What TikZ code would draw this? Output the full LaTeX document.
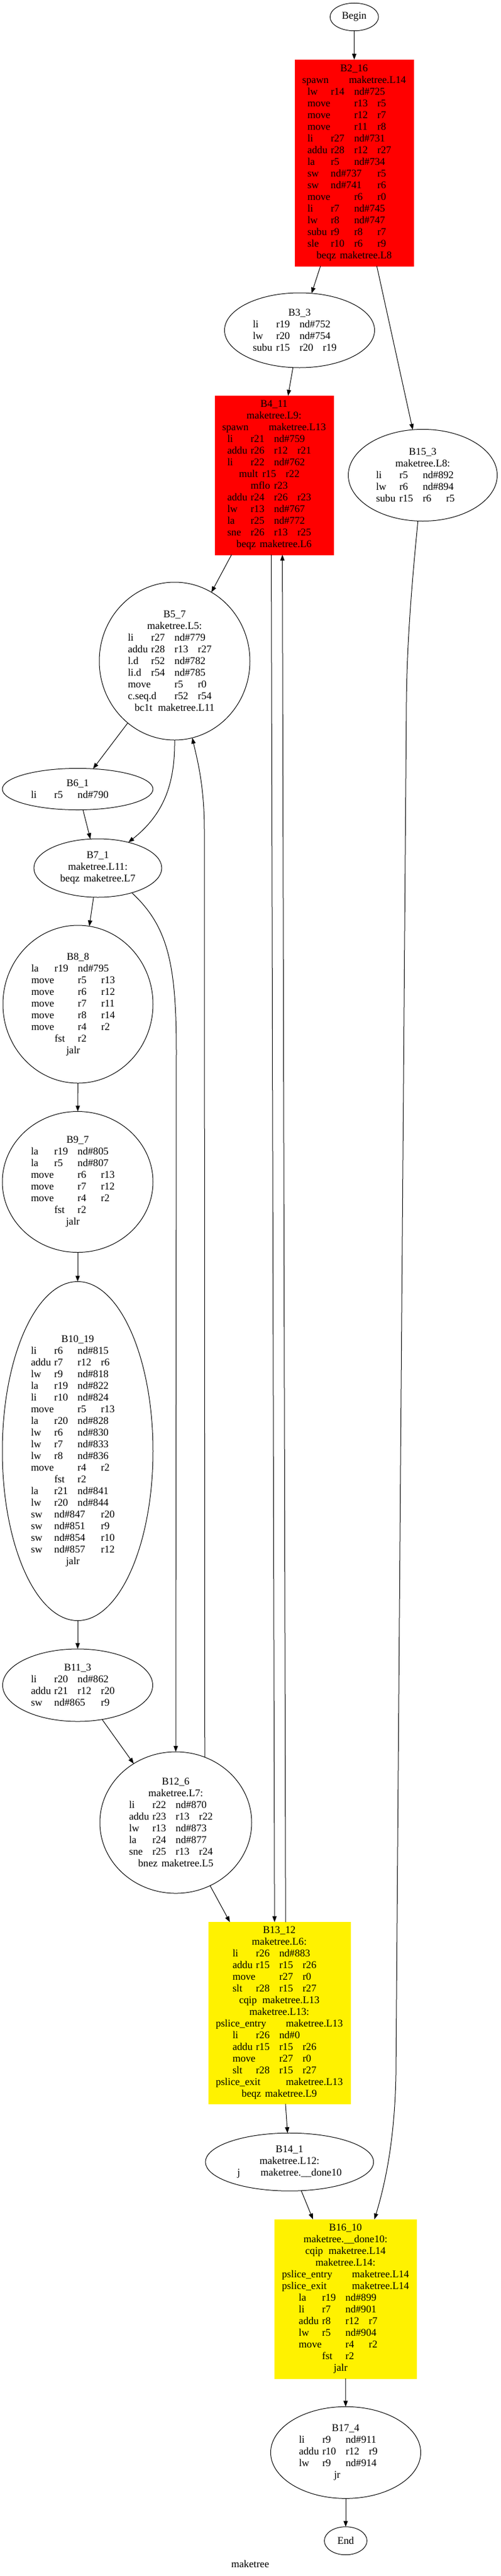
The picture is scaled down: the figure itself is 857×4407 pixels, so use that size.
\documentclass[tikz,border=0pt]{standalone}
\usepackage{fontspec}
\setmainfont{Liberation Serif}
\usetikzlibrary{arrows.meta,shapes.geometric}
\newlength\tabw \setlength\tabw{30pt}
\newcommand\cellx[2]{\makebox[#1\tabw][l]{#2}}
\newcommand\insA[3]{\cellx1{#1}\cellx1{#2}\cellx2{#3}}
\newcommand\insB[4]{\cellx1{#1}\cellx1{#2}\cellx1{#3}\cellx1{#4}}
\newcommand\insM[3]{\cellx2{#1}\cellx1{#2}\cellx1{#3}}
\newcommand\insS[3]{\cellx1{#1}\cellx2{#2}\cellx1{#3}}
\begin{document}
\begin{tikzpicture}[x=0.75pt,y=-0.75pt,
  every node/.style={inner sep=0pt, outer sep=0pt, align=center, font=\fontsize{13.25pt}{15pt}\selectfont},
  bb/.style={ellipse, draw=black, line width=0.75pt},
  redbox/.style={rectangle, fill=red, draw=red},
  yelbox/.style={rectangle, fill=yellow, draw=yellow},
  sz/.style 2 args={minimum width=#1*0.75pt, minimum height=#2*0.75pt},
  conn/.style={draw=black, line width=0.75pt, -{Triangle[length=7.5pt,width=5.5pt]}},
]
\useasboundingbox (0,0) rectangle (857,4407);

\node[bb, sz={83}{47.5}] (Begin) at (606.7,29) {Begin};

\node[redbox, sz={203}{353}] (B2) at (606.5,278.5) {B2\_16\\
\cellx2{spawn}maketree.L14\\
\insA{lw}{r14}{nd\#725}\\
\insM{move}{r13}{r5}\\
\insM{move}{r12}{r7}\\
\insM{move}{r11}{r8}\\
\insA{li}{r27}{nd\#731}\\
\insB{addu}{r28}{r12}{r27}\\
\insA{la}{r5}{nd\#734}\\
\insS{sw}{nd\#737}{r5}\\
\insS{sw}{nd\#741}{r6}\\
\insM{move}{r6}{r0}\\
\insA{li}{r7}{nd\#745}\\
\insA{lw}{r8}{nd\#747}\\
\insB{subu}{r9}{r8}{r7}\\
\insB{sle}{r10}{r6}{r9}\\
\cellx1{beqz}maketree.L8};

\node[bb, sz={257}{128}] (B3) at (513,565) {B3\_3\\
\insA{li}{r19}{nd\#752}\\
\insA{lw}{r20}{nd\#754}\\
\insB{subu}{r15}{r20}{r19}};

\node[bb, sz={255}{157}] (B15) at (724,813) {B15\_3\\
maketree.L8:\\
\insA{li}{r5}{nd\#892}\\
\insA{lw}{r6}{nd\#894}\\
\insB{subu}{r15}{r6}{r5}};

\node[redbox, sz={203}{272}] (B4) at (469.3,813) {B4\_11\\
maketree.L9:\\
\cellx2{spawn}maketree.L13\\
\insA{li}{r21}{nd\#759}\\
\insB{addu}{r26}{r12}{r21}\\
\insA{li}{r22}{nd\#762}\\
\cellx1{mult}\cellx1{r15}\cellx1{r22}\\
\cellx1{mflo}\cellx1{r23}\\
\insB{addu}{r24}{r26}{r23}\\
\insA{lw}{r13}{nd\#767}\\
\insA{la}{r25}{nd\#772}\\
\insB{sne}{r26}{r13}{r25}\\
\cellx1{beqz}maketree.L6};

\node[bb, sz={258}{270}] (B5) at (299,1131) {B5\_7\\
maketree.L5:\\
\insA{li}{r27}{nd\#779}\\
\insB{addu}{r28}{r13}{r27}\\
\insA{l.d}{r52}{nd\#782}\\
\insA{li.d}{r54}{nd\#785}\\
\insM{move}{r5}{r0}\\
\insM{c.seq.d}{r52}{r54}\\
\cellx1{bc1t}maketree.L11};

\node[bb, sz={258}{71}] (B6) at (133,1350) {B6\_1\\
\insA{li}{r5}{nd\#790}};

\node[bb, sz={219}{100}] (B7) at (167.5,1485) {B7\_1\\
maketree.L11:\\
\cellx1{beqz}maketree.L7};

\node[bb, sz={257}{270}] (B8) at (133.5,1718) {B8\_8\\
\insA{la}{r19}{nd\#795}\\
\insM{move}{r5}{r13}\\
\insM{move}{r6}{r12}\\
\insM{move}{r7}{r11}\\
\insM{move}{r8}{r14}\\
\insM{move}{r4}{r2}\\
\cellx1{fst}\cellx1{r2}\\
\cellx1{jalr}};

\node[bb, sz={258}{241}] (B9) at (133,2022) {B9\_7\\
\insA{la}{r19}{nd\#805}\\
\insA{la}{r5}{nd\#807}\\
\insM{move}{r6}{r13}\\
\insM{move}{r7}{r12}\\
\insM{move}{r4}{r2}\\
\cellx1{fst}\cellx1{r2}\\
\cellx1{jalr}};

\node[bb, sz={258}{580}] (B10) at (133,2482.5) {B10\_19\\
\insA{li}{r6}{nd\#815}\\
\insB{addu}{r7}{r12}{r6}\\
\insA{lw}{r9}{nd\#818}\\
\insA{la}{r19}{nd\#822}\\
\insA{li}{r10}{nd\#824}\\
\insM{move}{r5}{r13}\\
\insA{la}{r20}{nd\#828}\\
\insA{lw}{r6}{nd\#830}\\
\insA{lw}{r7}{nd\#833}\\
\insA{lw}{r8}{nd\#836}\\
\insM{move}{r4}{r2}\\
\cellx1{fst}\cellx1{r2}\\
\insA{la}{r21}{nd\#841}\\
\insA{lw}{r20}{nd\#844}\\
\insS{sw}{nd\#847}{r20}\\
\insS{sw}{nd\#851}{r9}\\
\insS{sw}{nd\#854}{r10}\\
\insS{sw}{nd\#857}{r12}\\
\cellx1{jalr}};

\node[bb, sz={257}{124}] (B11) at (133,2883) {B11\_3\\
\insA{li}{r20}{nd\#862}\\
\insB{addu}{r21}{r12}{r20}\\
\insS{sw}{nd\#865}{r9}};

\node[bb, sz={260}{242}] (B12) at (301,3118) {B12\_6\\
maketree.L7:\\
\insA{li}{r22}{nd\#870}\\
\insB{addu}{r23}{r13}{r22}\\
\insA{lw}{r13}{nd\#873}\\
\insA{la}{r24}{nd\#877}\\
\insB{sne}{r25}{r13}{r24}\\
\cellx1{bnez}maketree.L5};

\node[yelbox, sz={243}{311}] (B13) at (478.3,3443.8) {B13\_12\\
maketree.L6:\\
\insA{li}{r26}{nd\#883}\\
\insB{addu}{r15}{r15}{r26}\\
\insM{move}{r27}{r0}\\
\insB{slt}{r28}{r15}{r27}\\
\cellx1{cqip}maketree.L13\\
maketree.L13:\\
\cellx3{pslice\_entry}maketree.L13\\
\insA{li}{r26}{nd\#0}\\
\insB{addu}{r15}{r15}{r26}\\
\insM{move}{r27}{r0}\\
\insB{slt}{r28}{r15}{r27}\\
\cellx3{pslice\_exit}maketree.L13\\
\cellx1{beqz}maketree.L9};

\node[bb, sz={288}{99}] (B14) at (495.8,3698.7) {B14\_1\\
maketree.L12:\\
\cellx1{j}maketree.\_\_done10};

\node[yelbox, sz={243.4}{272.3}] (B16) at (591.7,3932.9) {B16\_10\\
maketree.\_\_done10:\\
\cellx1{cqip}maketree.L14\\
maketree.L14:\\
\cellx3{pslice\_entry}maketree.L14\\
\cellx3{pslice\_exit}maketree.L14\\
\insA{la}{r19}{nd\#899}\\
\insA{li}{r7}{nd\#901}\\
\insB{addu}{r8}{r12}{r7}\\
\insA{lw}{r5}{nd\#904}\\
\insM{move}{r4}{r2}\\
\cellx1{fst}\cellx1{r2}\\
\cellx1{jalr}};

\node[bb, sz={257}{157}] (B17) at (592,4195.8) {B17\_4\\
\insA{li}{r9}{nd\#911}\\
\insB{addu}{r10}{r12}{r9}\\
\insA{lw}{r9}{nd\#914}\\
\cellx1{jr}};

\node[bb, sz={73}{48}] (End) at (592,4346.7) {End};

\node (lbl) at (428.5,4386) {maketree};

\draw[conn] (Begin) -- (B2);
\draw[conn] (B2) -- (B3);
\draw[conn] (B2) -- (B15);
\draw[conn] (B3) -- (B4);
\draw[conn] (B4) -- (B5);
\draw[conn] (B4.-92.5) -- (B13.93.7);
\draw[conn] (B13.86.3) -- (B4.-84.1);
\draw[conn] (B5) -- (B6);
\draw[conn] (B5.south) .. controls (300,1345) and (278,1395) .. (B7.40);
\draw[conn] (B6) -- (B7);
\draw[conn] (B7) -- (B8);
\draw[conn] (B7.-36) .. controls (288,1585) and (302,1650) .. (302,1800) -- (B12.north);
\draw[conn] (B8) -- (B9);
\draw[conn] (B9) -- (B10);
\draw[conn] (B10) -- (B11);
\draw[conn] (B11) -- (B12);
\draw[conn] (B12.66) -- (350,1420) .. controls (350,1345) and (338,1300) .. (B5.-77);
\draw[conn] (B12) -- (B13);
\draw[conn] (B13) -- (B14);
\draw[conn] (B14) -- (B16);
\draw[conn] (B15.-96) .. controls (705,1000) and (697,1100) .. (696,1200) -- (678,3550) .. controls (676,3660) and (660,3735) .. (B16.70);
\draw[conn] (B16) -- (B17);
\draw[conn] (B17) -- (End);
\end{tikzpicture}
\end{document}
